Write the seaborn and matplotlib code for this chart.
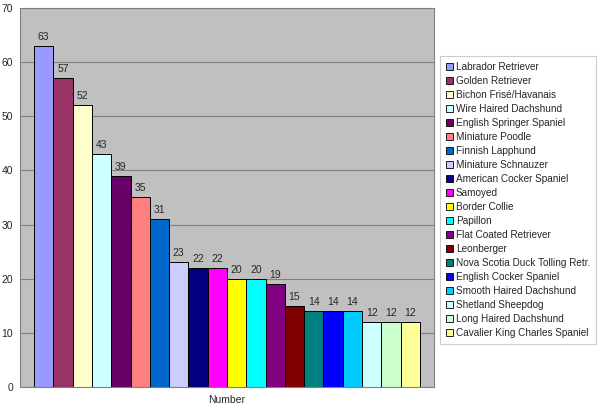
import seaborn as sns
import pandas as pd
from matplotlib import pyplot as plt
from matplotlib.patches import Patch

breeds = ['Labrador Retriever', 'Golden Retriever', 'Bichon Frisé/Havanais',
          'Wire Haired Dachshund', 'English Springer Spaniel', 'Miniature Poodle',
          'Finnish Lapphund', 'Miniature Schnauzer', 'American Cocker Spaniel',
          'Samoyed', 'Border Collie', 'Papillon', 'Flat Coated Retriever',
          'Leonberger', 'Nova Scotia Duck Tolling Retr.', 'English Cocker Spaniel',
          'Smooth Haired Dachshund', 'Shetland Sheepdog', 'Long Haired Dachshund',
          'Cavalier King Charles Spaniel']
counts = [63, 57, 52, 43, 39, 35, 31, 23, 22, 22, 20, 20, 19, 15, 14, 14, 14, 12, 12, 12]
colors = ['#9999FF', '#993366', '#FFFFCC', '#CCFFFF', '#660066', '#FF8080',
          '#0066CC', '#CCCCFF', '#000080', '#FF00FF', '#FFFF00', '#00FFFF',
          '#800080', '#800000', '#008080', '#0000FF', '#00CCFF', '#CCFFFF',
          '#CCFFCC', '#FFFF99']

df = pd.DataFrame({'series': 'Number', 'breed': breeds, 'count': counts})

sns.set_style('white')
plt.rcParams['font.family'] = ['Liberation Sans', 'DejaVu Sans']

fig = plt.figure(figsize=(6, 4.09), dpi=100)
ax = fig.add_axes([0.0333, 0.0538, 0.69, 0.9267])
ax.set_facecolor('#C0C0C0')

sns.barplot(data=df, x='series', y='count', hue='breed', hue_order=breeds,
            palette=colors, width=0.932, edgecolor='black', linewidth=0.7,
            saturation=1, legend=False, ax=ax)

for c in ax.containers:
    ax.bar_label(c, fontsize=7.5, padding=3)

ax.set_ylim(0, 70)
ax.set_yticks(range(0, 71, 10))
ax.yaxis.grid(True, color='#808080', linewidth=0.8)
ax.set_axisbelow(True)
ax.set_xlabel('')
ax.set_ylabel('')
ax.tick_params(axis='y', labelsize=7.5, length=3, width=0.8, color='#808080', pad=2)
ax.tick_params(axis='x', labelsize=7.5, length=0, pad=6)
for s in ax.spines.values():
    s.set_color('#808080')
    s.set_linewidth(0.8)

handles = [Patch(facecolor=col, edgecolor='black', linewidth=0.6) for col in colors]
leg = fig.legend(handles, breeds, loc='upper left', bbox_to_anchor=(0.733, 0.863),
                 fontsize=7.2, frameon=True, fancybox=False, handlelength=0.7,
                 handleheight=0.7, handletextpad=0.3, labelspacing=0.4,
                 borderpad=0.6, borderaxespad=0)
leg.get_frame().set_edgecolor('#C0C0C0')
leg.get_frame().set_linewidth(0.8)

fig.savefig('out.png', dpi=100)
